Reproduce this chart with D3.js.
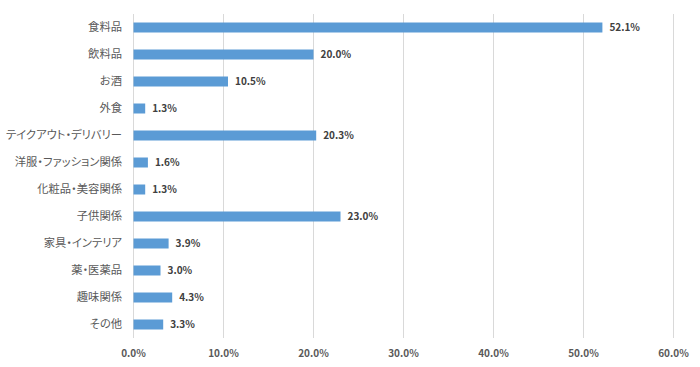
<!DOCTYPE html>
<html><head><meta charset="utf-8">
<script src="https://cdn.jsdelivr.net/npm/d3@7"></script>
<style>
body{margin:0;background:#fff;}
svg text{font-family:"Noto Sans CJK JP","Noto Sans",sans-serif;font-feature-settings:"palt";}
</style></head>
<body><svg id="c" width="700" height="367"></svg>
<script>
const categories = ["食料品","飲料品","お酒","外食","テイクアウト・デリバリー","洋服・ファッション関係","化粧品・美容関係","子供関係","家具・インテリア","薬・医薬品","趣味関係","その他"];
const values = [52.1,20.0,10.5,1.3,20.3,1.6,1.3,23.0,3.9,3.0,4.3,3.3];
const ticks = [0,10,20,30,40,50,60];

const svg = d3.select("#c");
const x = d3.scaleLinear().domain([0,60]).range([133.5,673.5]);
const y = d3.scaleBand().domain(categories).range([14,338]).paddingInner(0.63).paddingOuter(0.315);

svg.append("g").selectAll("line").data(ticks).join("line")
  .attr("x1",d=>x(d)).attr("x2",d=>x(d)).attr("y1",14).attr("y2",338)
  .attr("stroke","#d9d9d9").attr("stroke-width",1);

svg.append("g").selectAll("rect").data(values).join("rect")
  .attr("x",x(0)).attr("y",(d,i)=>y(categories[i]))
  .attr("width",d=>x(d)-x(0)).attr("height",y.bandwidth())
  .attr("fill","#5b9bd5");

svg.append("g").selectAll("text").data(values).join("text")
  .attr("x",d=>x(d)+7).attr("y",(d,i)=>y(categories[i])+y.bandwidth()/2)
  .attr("dy","0.35em").attr("font-size",10).attr("font-weight","bold").attr("fill","#404040")
  .text(d=>d.toFixed(1)+"%");

svg.append("g").selectAll("text").data(categories).join("text")
  .attr("x",122).attr("y",d=>y(d)+y.bandwidth()/2).attr("dy","0.35em")
  .attr("text-anchor","end").attr("font-size",11.3).attr("fill","#595959")
  .text(d=>d);

svg.append("g").selectAll("text").data(ticks).join("text")
  .attr("x",d=>x(d)).attr("y",353).attr("dy","0.35em").attr("text-anchor","middle")
  .attr("font-size",10).attr("font-weight","bold").attr("fill","#595959")
  .text(d=>d.toFixed(1)+"%");
</script></body></html>
